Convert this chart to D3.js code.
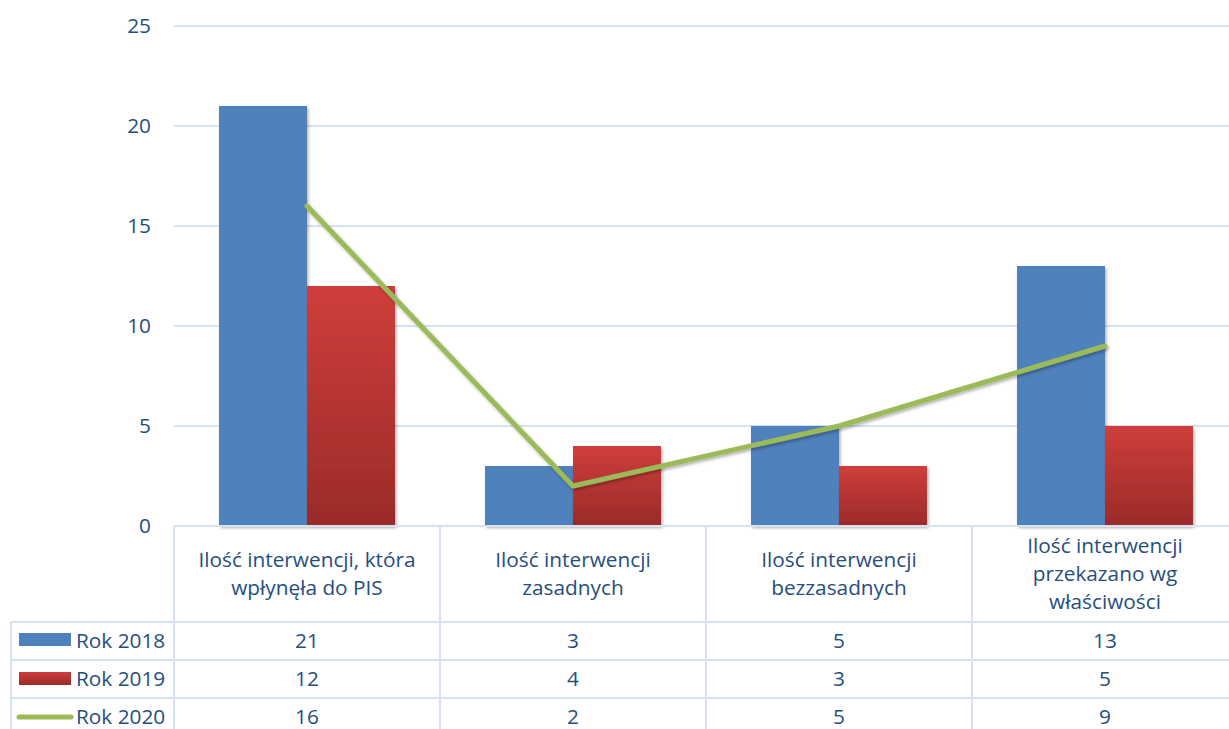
<!DOCTYPE html>
<html><head><meta charset="utf-8">
<script src="https://cdn.jsdelivr.net/npm/d3@7"></script>
<style>body{margin:0;background:#fff}svg{display:block}</style>
</head><body>
<script>
const categories = [
  ["Ilość interwencji, która", "wpłynęła do PIS"],
  ["Ilość interwencji", "zasadnych"],
  ["Ilość interwencji", "bezzasadnych"],
  ["Ilość interwencji", "przekazano wg", "właściwości"]
];
const series2018 = [21, 3, 5, 13];
const series2019 = [12, 4, 3, 5];
const series2020 = [16, 2, 5, 9];
const seriesNames = ["Rok 2018", "Rok 2019", "Rok 2020"];
const yTicks = [0, 5, 10, 15, 20, 25];

const W = 1229, H = 729;
const plotLeft = 174, plotTop = 26, plotBottom = 526;
const textColor = "#264e7e", gridColor = "#d6e2f2";
const font = "'Open Sans', Lato, sans-serif";
const fs = 20.8;

const svg = d3.select("body").append("svg").attr("width", W).attr("height", H);
const defs = svg.append("defs");
const grad = defs.append("linearGradient").attr("id","redg").attr("x1",0).attr("y1",0).attr("x2",0).attr("y2",1);
grad.append("stop").attr("offset","0%").attr("stop-color","#cf3e3b");
grad.append("stop").attr("offset","100%").attr("stop-color","#992b28");
const sh = defs.append("filter").attr("id","shadow").attr("x","-20%").attr("y","-20%").attr("width","140%").attr("height","140%");
sh.append("feDropShadow").attr("dx",1.5).attr("dy",2).attr("stdDeviation",1.5).attr("flood-color","#000").attr("flood-opacity",0.3);

const y = d3.scaleLinear().domain([0, 25]).range([plotBottom, plotTop]);
const x = d3.scaleBand().domain(d3.range(categories.length)).range([plotLeft, plotLeft + 4*266]).paddingInner(0).paddingOuter(0);
const bw = 88;

// gridlines
svg.append("g").selectAll("line").data(yTicks).join("line")
  .attr("x1", plotLeft).attr("x2", W).attr("y1", d => y(d)).attr("y2", d => y(d))
  .attr("stroke", gridColor).attr("stroke-width", 2);

// y labels via axis
const yAxis = svg.append("g").attr("transform", `translate(${151},0)`)
  .call(d3.axisLeft(y).tickValues(yTicks).tickSize(0).tickPadding(0));
yAxis.select(".domain").remove();
yAxis.selectAll("text").attr("font-family", font).attr("font-size", fs).attr("fill", textColor).attr("x", 0).attr("text-anchor","end");

// bars
const cx = i => x(i) + x.bandwidth()/2;
svg.append("g").selectAll("rect").data(series2018).join("rect")
  .attr("x", (d,i) => cx(i) - bw).attr("width", bw)
  .attr("y", d => y(d)).attr("height", d => y(0) - y(d))
  .attr("fill", "#4f81bd").attr("filter","url(#shadow)");
svg.append("g").selectAll("rect").data(series2019).join("rect")
  .attr("x", (d,i) => cx(i)).attr("width", bw)
  .attr("y", d => y(d)).attr("height", d => y(0) - y(d))
  .attr("fill", "url(#redg)").attr("filter","url(#shadow)");

// line
svg.append("path").datum(series2020)
  .attr("d", d3.line().x((d,i) => cx(i)).y(d => y(d)))
  .attr("fill","none").attr("stroke","#9bbb59").attr("stroke-width",5)
  .attr("stroke-linecap","round").attr("stroke-linejoin","round").attr("filter","url(#shadow)");

// table
const tbl = svg.append("g");
const tableLeft = 11;
tbl.append("line").attr("x1", plotLeft).attr("x2", W).attr("y1", 526).attr("y2", 526).attr("stroke", gridColor).attr("stroke-width", 2);
[622, 660, 698].forEach(yy => tbl.append("line").attr("x1", tableLeft).attr("x2", W).attr("y1", yy).attr("y2", yy).attr("stroke", gridColor).attr("stroke-width", 2));
tbl.append("line").attr("x1", tableLeft).attr("x2", tableLeft).attr("y1", 622).attr("y2", H).attr("stroke", gridColor).attr("stroke-width", 2);
d3.range(categories.length).forEach(i => tbl.append("line").attr("x1", x(i)).attr("x2", x(i)).attr("y1", 526).attr("y2", H).attr("stroke", gridColor).attr("stroke-width", 2));

// header text
categories.forEach((lines, i) => {
  const n = lines.length, lh = 28, mid = 574;
  lines.forEach((t, j) => {
    tbl.append("text").attr("x", cx(i)).attr("y", mid + (j - (n-1)/2) * lh)
      .attr("dy", "0.35em").attr("text-anchor","middle")
      .attr("font-family", font).attr("font-size", fs).attr("fill", textColor).text(t);
  });
});
// rows
const rows = [series2018, series2019, series2020];
const rowMid = [641, 679, 717];
rows.forEach((vals, r) => {
  vals.forEach((v, i) => {
    tbl.append("text").attr("x", cx(i)).attr("y", rowMid[r]).attr("dy","0.35em")
      .attr("text-anchor","middle").attr("font-family", font).attr("font-size", fs).attr("fill", textColor).text(v);
  });
  tbl.append("text").attr("x", 76).attr("y", rowMid[r]).attr("dy","0.35em")
    .attr("font-family", font).attr("font-size", fs).attr("fill", textColor).text(seriesNames[r]);
});
// legend keys
tbl.append("rect").attr("x",19).attr("y",633).attr("width",52).attr("height",13).attr("fill","#4f81bd");
tbl.append("rect").attr("x",19).attr("y",672).attr("width",52).attr("height",13).attr("fill","url(#redg)");
tbl.append("line").attr("x1",19).attr("x2",71).attr("y1",717).attr("y2",717).attr("stroke","#9bbb59").attr("stroke-width",5).attr("stroke-linecap","round");
</script>
</body></html>
